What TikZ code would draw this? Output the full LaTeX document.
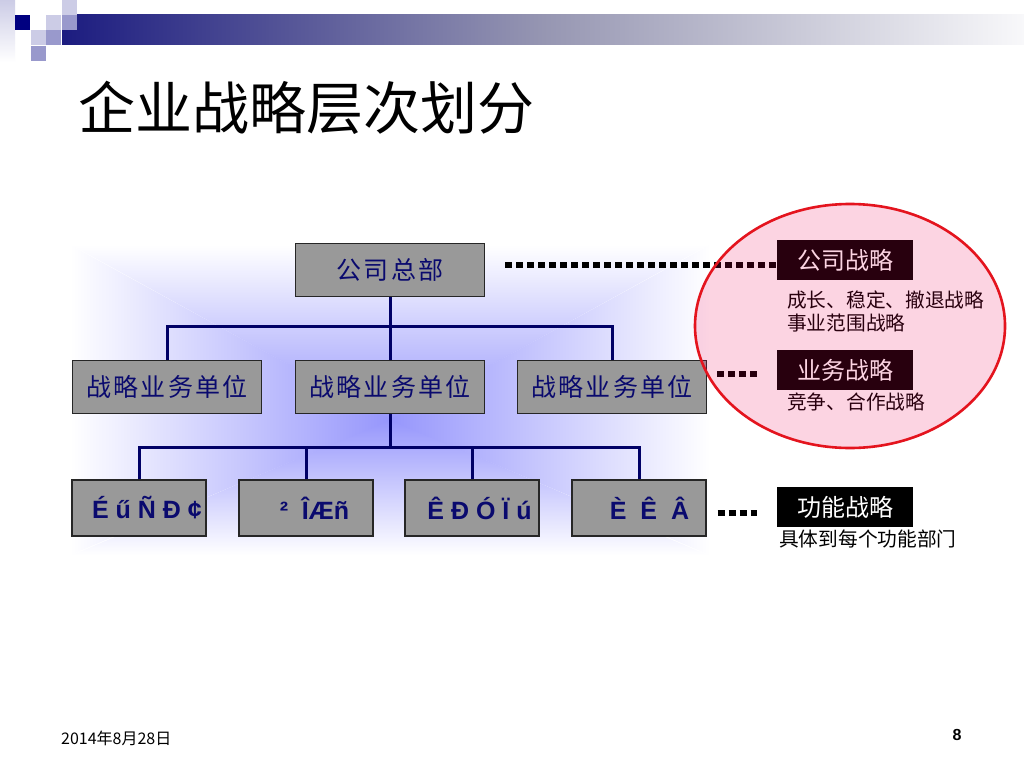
\documentclass[tikz,border=0pt]{standalone}
\usepackage{fontspec}
\setmainfont{Liberation Sans}
\newfontfamily\cjk{Noto Sans CJK SC}
\definecolor{navytext}{RGB}{10,10,110}
\definecolor{boxgray}{RGB}{153,153,153}
\definecolor{linenavy}{RGB}{0,0,102}
\definecolor{glowc}{RGB}{150,150,252}
\definecolor{glowm}{RGB}{212,212,254}
\definecolor{pinkfill}{RGB}{240,0,85}
\definecolor{ellred}{RGB}{228,20,30}
\definecolor{barnavy}{RGB}{28,28,128}
\definecolor{barmid}{RGB}{150,150,178}
\definecolor{barend}{RGB}{248,248,250}
\definecolor{sqdark}{RGB}{0,0,128}
\definecolor{sqlight}{RGB}{204,204,230}
\definecolor{sqmid}{RGB}{153,153,204}
\tikzset{
  box/.style={draw=black!85, line width=1.2, fill=boxgray, minimum width=189, minimum height=53, inner sep=0, text=navytext, font=\cjk\fontsize{25}{25}\selectfont\addfontfeature{LetterSpace=9}},
  fbox/.style={draw=black!85, line width=1.2, fill=boxgray, minimum width=134, minimum height=56, inner sep=0, text=navytext, font=\bfseries\fontsize{25}{25}\selectfont},
  conn/.style={draw=linenavy, line width=3},
  dotline/.style={draw=black, line width=6, dash pattern=on 7 off 4},
  lab/.style={fill=black, text=white, minimum width=136, minimum height=40, inner sep=0, font=\cjk\fontsize{24}{24}\selectfont},
  note/.style={font=\cjk\fontsize{19.7}{23}\selectfont, anchor=west, inner sep=0, align=left, text=black}
}
\begin{document}
\begin{tikzpicture}[x=1pt,y=-1pt]
\useasboundingbox (0,0) rectangle (1024,768);
\fill[white] (0,0) rectangle (1024,768);
% header decoration
\shade[top color=sqlight, bottom color=white] (0,0) rectangle (15,62);
\shade[left color=barnavy, right color=barend, middle color=barmid] (62,15) rectangle (1024,45);
\fill[sqdark] (15,15) rectangle (30,30);
\fill[sqlight] (62,0) rectangle (77,15);
\fill[sqlight] (46,15) rectangle (61,30);
\fill[sqmid] (62,15) rectangle (77,30);
\fill[sqlight] (31,30) rectangle (46,45);
\fill[sqmid] (46,30) rectangle (61,45);
\fill[sqmid] (31,46) rectangle (46,61);
% title
\node[font=\cjk\fontsize{57}{60}\selectfont, anchor=west, inner sep=0] (title) at (78,108) {企业战略层次划分};
% glow (rectangular gradient from centre)
\coordinate (gc) at (390,420);
\begin{scope}
  \clip (gc) ++(0,1) -- (68,243) -- (712,243) -- cycle;
  \shade[top color=white, middle color=glowm, bottom color=glowc] (70,245) rectangle (710,421);
\end{scope}
\begin{scope}
  \clip (gc) ++(0,-1) -- (68,557) -- (712,557) -- cycle;
  \shade[bottom color=white, middle color=glowm, top color=glowc] (70,419) rectangle (710,555);
\end{scope}
\begin{scope}
  \clip (gc) -- (70,245) -- (70,555) -- cycle;
  \shade[left color=white, middle color=glowm, right color=glowc] (70,245) rectangle (390,555);
\end{scope}
\begin{scope}
  \clip (gc) -- (710,245) -- (710,555) -- cycle;
  \shade[right color=white, middle color=glowm, left color=glowc] (390,245) rectangle (710,555);
\end{scope}
% org chart
\node[box] (hq) at (390,270) {公司总部};
\node[box] (s1) at (167,387) {战略业务单位};
\node[box] (s2) at (390,387) {战略业务单位};
\node[box] (s3) at (612,387) {战略业务单位};
\node[fbox] (f1) at (139,508) {\hspace*{16pt}É ű Ñ Ð ¢};
\node[fbox] (f2) at (306,508) {\hspace*{17pt}²\ \ ÎÆñ};
\node[fbox] (f3) at (472,508) {\hspace*{15pt}Ê Ð Ó Ï ú};
\node[fbox] (f4) at (639,508) {\hspace*{21pt}È \ Ê \ Â};
\draw[conn] (hq.south) -- (s2.north);
\draw[conn] (s1.north) -- ++(0,-33) -| (s3.north);
\coordinate (j2) at (390,448);
\draw[conn] (s2.south) -- (j2);
\draw[conn] (f1.north) -- ++(0,-32) -| (f4.north);
\draw[conn] (f2.north) -- ++(0,-32);
\draw[conn] (f3.north) -- ++(0,-32);
% labels
\node[lab] (l1) at (845,260) {公司战略};
\node[lab] (l2) at (845,370) {业务战略};
\node[lab] (l3) at (845,507) {功能战略};
\node[note] (n1) at (787,311) {成长、稳定、撤退战略\\事业范围战略};
\node[note] (n2) at (787,402) {竞争、合作战略};
\node[note] (n3) at (779,539) {具体到每个功能部门};
\draw[dotline] ([xshift=20]hq.east |- l1.west) ++(0,5) -- ([yshift=-5]l1.west);
\draw[dotline] ([xshift=10]s3.east |- l2.west) ++(0,4) -- ([xshift=-20,yshift=-4]l2.west);
\draw[dotline] ([xshift=11]f4.east |- l3.west) ++(0,6) -- ([xshift=-20,yshift=-6]l3.west);
% ellipse
\draw[fill=pinkfill, fill opacity=0.17, draw=ellred, line width=2.6] (850,326) ellipse [x radius=155, y radius=122];
% footer
\node[font=\cjk\fontsize{16}{16}\selectfont, anchor=west, inner sep=0] (date) at (61,738) {2014年8月28日};
\node[font=\bfseries\fontsize{16}{16}\selectfont, inner sep=0] (pg) at (957,735) {8};
\end{tikzpicture}
\end{document}
